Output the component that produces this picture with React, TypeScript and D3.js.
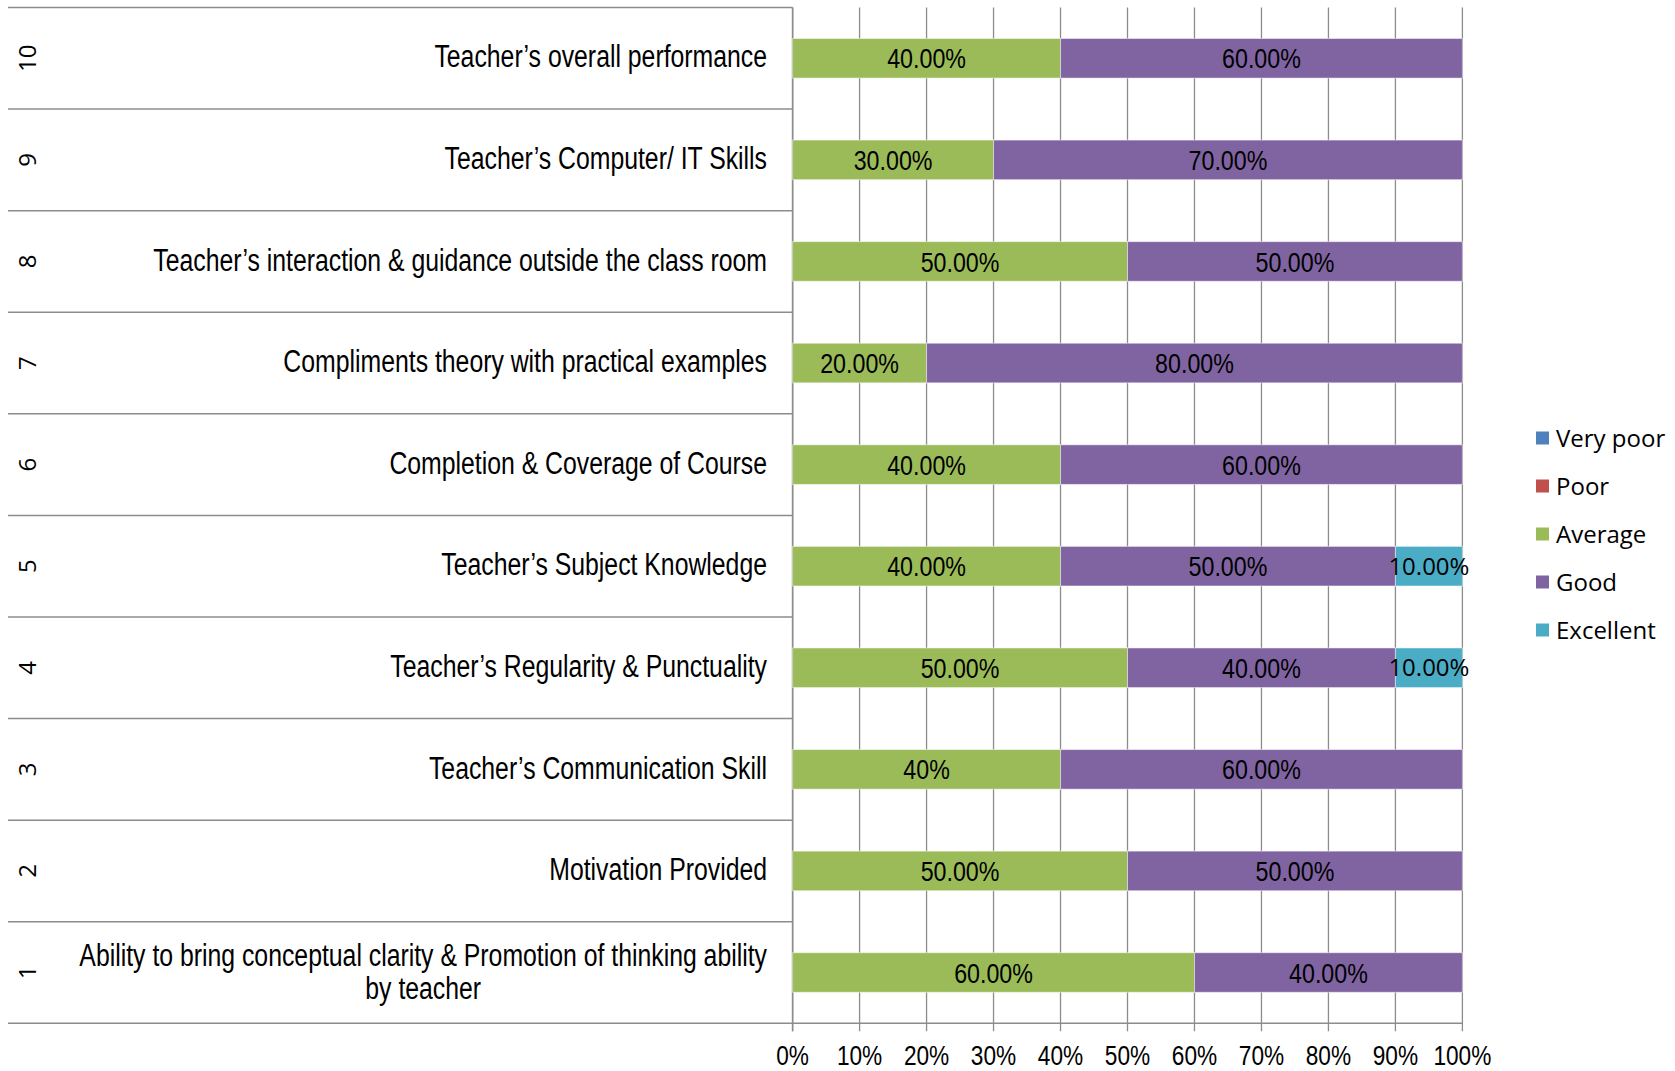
import React, { useEffect, useRef } from "react";
import * as d3 from "d3";

const numbers = ["10", "9", "8", "7", "6", "5", "4", "3", "2", "1"];
const categories = [
  ["Teacher\u2019s overall performance"],
  ["Teacher\u2019s Computer/ IT Skills"],
  ["Teacher\u2019s interaction & guidance outside the class room"],
  ["Compliments theory with practical examples"],
  ["Completion & Coverage of Course"],
  ["Teacher\u2019s Subject Knowledge"],
  ["Teacher\u2019s Regularity & Punctuality"],
  ["Teacher\u2019s Communication Skill"],
  ["Motivation Provided"],
  ["Ability to bring conceptual clarity & Promotion of thinking ability", "by teacher"],
];
const seriesNames = ["Very poor", "Poor", "Average", "Good", "Excellent"];
const seriesColors = ["#4F81BD", "#C0504D", "#9BBB59", "#8064A2", "#4BACC6"];
const veryPoor = [0, 0, 0, 0, 0, 0, 0, 0, 0, 0];
const poor = [0, 0, 0, 0, 0, 0, 0, 0, 0, 0];
const average = [40, 30, 50, 20, 40, 40, 50, 40, 50, 60];
const good = [60, 70, 50, 80, 60, 50, 40, 60, 50, 40];
const excellent = [0, 0, 0, 0, 0, 10, 10, 0, 0, 0];
const averageLabels = ["40.00%", "30.00%", "50.00%", "20.00%", "40.00%", "40.00%", "50.00%", "40%", "50.00%", "60.00%"];
const goodLabels = ["60.00%", "70.00%", "50.00%", "80.00%", "60.00%", "50.00%", "40.00%", "60.00%", "50.00%", "40.00%"];
const excellentLabels = ["", "", "", "", "", "10.00%", "10.00%", "", "", ""];
const xTicks = [0, 10, 20, 30, 40, 50, 60, 70, 80, 90, 100];

const W = 1675;
const H = 1071;
const COND = "'Liberation Sans', Arial, sans-serif";
const REG = "'Open Sans', 'Liberation Sans', sans-serif";

export default function App() {
  const ref = useRef<SVGSVGElement>(null);
  useEffect(() => {
    document.body.style.margin = "0";
    document.body.style.overflow = "hidden";
    const svg = d3.select(ref.current);
    svg.selectAll("*").remove();
    const left = 792.6, right = 1462.4, top = 7.5, bottom = 1023.3, tableLeft = 8;
    const x = d3.scaleLinear().domain([0, 100]).range([left, right]);
    const y = d3.scaleBand<string>().domain(numbers).range([top, bottom]).paddingInner(0.61).paddingOuter(0.305);
    const step = y.step();

    const condText = (g: any, tx: number, ty: number, str: string, size: number, sx: number, anchor: string) =>
      g.append("text")
        .attr("transform", `translate(${tx},${ty}) scale(${sx},1)`)
        .attr("x", 0).attr("y", 0).attr("dy", "0.36em")
        .attr("text-anchor", anchor).attr("font-family", COND).attr("font-size", size).attr("fill", "#000")
        .text(str);

    // gridlines + ticks
    svg.append("g").selectAll("line").data(xTicks).join("line")
      .attr("x1", (d) => x(d)).attr("x2", (d) => x(d))
      .attr("y1", top).attr("y2", bottom + 8)
      .attr("stroke", "#8c8c8c").attr("stroke-width", 1.3);

    // table horizontal lines
    const bounds = d3.range(numbers.length + 1).map((i) => top + i * step);
    svg.append("g").selectAll("line").data(bounds).join("line")
      .attr("x1", tableLeft).attr("x2", (d, i) => (i === numbers.length ? right : left))
      .attr("y1", (d) => d).attr("y2", (d) => d)
      .attr("stroke", "#8c8c8c").attr("stroke-width", 1.5);
    // left axis
    svg.append("line").attr("x1", left).attr("x2", left).attr("y1", top).attr("y2", bottom + 8)
      .attr("stroke", "#8c8c8c").attr("stroke-width", 1.5);

    const rows = numbers.map((n, i) => ({
      n, i,
      vals: [veryPoor[i], poor[i], average[i], good[i], excellent[i]],
      labels: ["", "", averageLabels[i], goodLabels[i], excellentLabels[i]],
    }));
    const segs: any[] = [];
    rows.forEach((r) => {
      let acc = 0;
      r.vals.forEach((v, k) => {
        if (v > 0) segs.push({ n: r.n, k, x0: acc, x1: acc + v, label: r.labels[k] });
        acc += v;
      });
    });
    svg.append("g").selectAll("rect").data(segs).join("rect")
      .attr("x", (d) => x(d.x0)).attr("width", (d) => x(d.x1) - x(d.x0))
      .attr("y", (d) => y(d.n)!).attr("height", y.bandwidth())
      .attr("fill", (d) => seriesColors[d.k])
      .attr("stroke", "#ffffff").attr("stroke-opacity", 0.5).attr("stroke-width", 1);
    const labG = svg.append("g");
    segs.forEach((d) => {
      const cx = (x(d.x0) + x(d.x1)) / 2;
      const cy = y(d.n)! + y.bandwidth() / 2;
      if (d.k === 4) {
        labG.append("text").attr("x", cx).attr("y", cy).attr("dy", "0.36em")
          .attr("text-anchor", "middle").attr("font-family", REG).attr("font-size", 24).attr("fill", "#000")
          .text(d.label);
      } else {
        condText(labG, cx, cy, d.label, 28, 0.83, "middle");
      }
    });

    // numbers
    svg.append("g").selectAll("text").data(numbers).join("text")
      .attr("transform", (d) => `translate(27,${y(d)! + y.bandwidth() / 2}) rotate(-90)`)
      .attr("text-anchor", "middle").attr("dy", "0.36em")
      .attr("font-family", REG).attr("font-size", 24).attr("fill", "#000")
      .text((d) => d);

    // category labels
    const labelRight = 767;
    const catSize = 31, catSx = 0.8;
    const catG = svg.append("g");
    numbers.forEach((n, i) => {
      const lines = categories[i];
      const cy = y(n)! + y.bandwidth() / 2;
      if (lines.length === 1) {
        condText(catG, labelRight, cy - 2, lines[0], catSize, catSx, "end");
      } else {
        const t1 = condText(catG, labelRight, cy - 18, lines[0], catSize, catSx, "end");
        const w = (t1.node() as SVGTextElement).getComputedTextLength() * catSx;
        condText(catG, labelRight - w / 2, cy + 15, lines[1], catSize, catSx, "middle");
      }
    });

    // x tick labels
    const tickG = svg.append("g");
    xTicks.forEach((d) => condText(tickG, x(d), 1055, `${d}%`, 27, 0.84, "middle"));

    // legend
    const lg = svg.append("g").selectAll("g").data(seriesNames).join("g")
      .attr("transform", (d, i) => `translate(1536,${438 + i * 48})`);
    lg.append("rect").attr("x", 0).attr("y", -6.5).attr("width", 13).attr("height", 13)
      .attr("fill", (d, i) => seriesColors[i]);
    lg.append("text").attr("x", 20).attr("y", 0).attr("dy", "0.36em")
      .attr("font-family", REG).attr("font-size", 24).attr("fill", "#000")
      .text((d) => d);
  }, []);
  return <svg ref={ref} width={W} height={H} style={{ display: "block", background: "#fff" }} />;
}
